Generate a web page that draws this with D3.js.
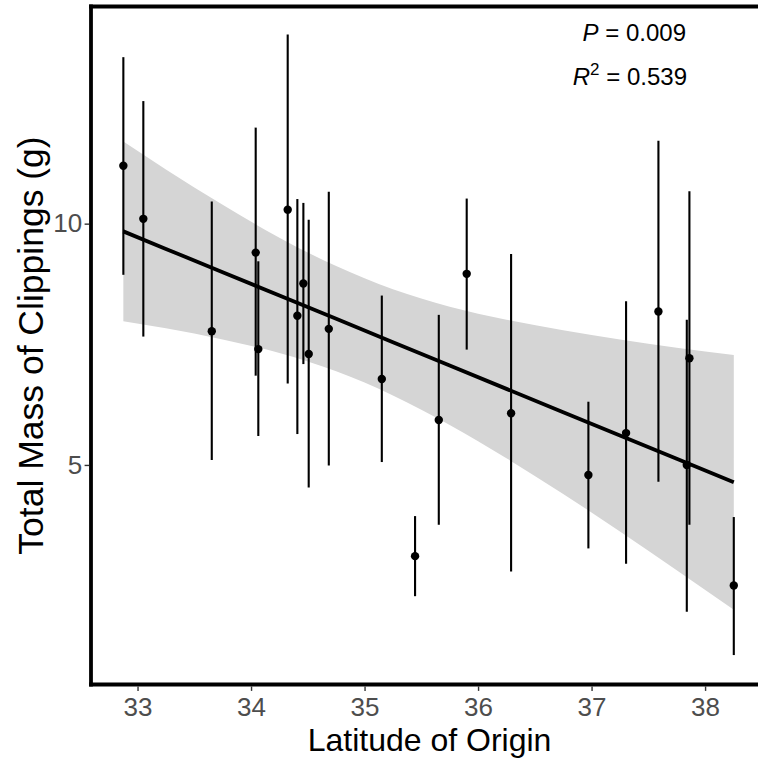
<!DOCTYPE html>
<html>
<head>
<meta charset="utf-8">
<script src="https://cdn.jsdelivr.net/npm/d3@7"></script>
<style>
  html, body { margin: 0; padding: 0; background: #fff; overflow: hidden; }
  svg { display: block; overflow: hidden; }
  text { font-family: "Liberation Sans", Arial, sans-serif; }
</style>
</head>
<body>
<div id="chart"></div>
<script>
// ---- Data ----
const latitude = [32.875, 33.051, 33.654, 34.041, 34.064, 34.323, 34.408, 34.461, 34.508, 34.685,
                  35.152, 35.445, 35.654, 35.900, 36.291, 36.972, 37.304, 37.589, 37.862, 37.839, 38.253];
const mass     = [11.20, 10.10, 7.77, 9.40, 7.40, 10.29, 8.09, 8.76, 7.30, 7.82,
                  6.78, 3.11, 5.93, 8.96, 6.07, 4.79, 5.66, 8.18, 7.21, 5.00, 2.50];
const massLow  = [8.94, 7.66, 5.10, 6.85, 5.60, 6.69, 5.64, 7.09, 4.53, 4.99,
                  5.06, 2.28, 3.76, 7.39, 2.79, 3.27, 2.95, 4.65, 3.76, 1.96, 1.06];
const massHigh = [13.45, 12.54, 10.46, 11.99, 9.22, 13.92, 10.51, 10.43, 10.08, 10.66,
                  8.51, 3.94, 8.11, 10.52, 9.37, 6.31, 8.39, 11.72, 10.67, 8.01, 3.92];

// fitted regression line and its confidence band
const fitLat  = [32.875, 33.25, 33.75, 34.25, 34.75, 35.25, 35.75, 36.25, 36.75, 37.25, 37.75, 38.253];
const fitMass = [9.840, 9.477, 8.994, 8.510, 8.027, 7.543, 7.060, 6.576, 6.093, 5.609, 5.126, 4.640];
const fitLow  = [7.98, 7.83, 7.60, 7.32, 6.94, 6.44, 5.83, 5.14, 4.40, 3.62, 2.82, 2.00];
const fitHigh = [11.70, 11.12, 10.39, 9.71, 9.12, 8.64, 8.28, 8.01, 7.79, 7.60, 7.43, 7.28];

const xTicks = [33, 34, 35, 36, 37, 38];
const yTicks = [5, 10];
const xTitle = "Latitude of Origin";
const yTitle = "Total Mass of Clippings (g)";
const pValue = "0.009";
const r2Value = "0.539";

// ---- Layout ----
const W = 758, H = 761;
const panel = { left: 91, top: 6.5, right: 764.1, bottom: 684.5 };

const svg = d3.select("#chart").append("svg")
  .attr("width", W).attr("height", H);

const x = d3.scaleLinear().domain([32.59, 38.52]).range([panel.left, panel.right]);
const y = d3.scaleLinear().domain([0.45, 14.5]).range([panel.bottom, panel.top]);

const fit = fitLat.map((d, i) => ({ lat: d, m: fitMass[i], lo: fitLow[i], hi: fitHigh[i] }));
const pts = latitude.map((d, i) => ({ lat: d, m: mass[i], lo: massLow[i], hi: massHigh[i] }));

// ribbon
svg.append("path")
  .datum(fit)
  .attr("fill", "#d5d5d5")
  .attr("d", d3.area()
    .x(d => x(d.lat)).y0(d => y(d.lo)).y1(d => y(d.hi))
    .curve(d3.curveMonotoneX));

// error bars
svg.append("g").selectAll("line").data(pts).join("line")
  .attr("x1", d => x(d.lat)).attr("x2", d => x(d.lat))
  .attr("y1", d => y(d.lo)).attr("y2", d => y(d.hi))
  .attr("stroke", "#000").attr("stroke-width", 2.1);

// regression line
svg.append("path")
  .datum(fit)
  .attr("fill", "none")
  .attr("stroke", "#000")
  .attr("stroke-width", 3.8)
  .attr("d", d3.line().x(d => x(d.lat)).y(d => y(d.m)));

// points
svg.append("g").selectAll("circle").data(pts).join("circle")
  .attr("cx", d => x(d.lat)).attr("cy", d => y(d.m))
  .attr("r", 4.2).attr("fill", "#000");

// panel border: left, top and bottom edges (right edge lies outside the picture)
const border = svg.append("g").attr("stroke", "#000").attr("stroke-width", 3.8);
border.append("line").attr("x1", panel.left).attr("x2", panel.left)
  .attr("y1", panel.top - 1.9).attr("y2", panel.bottom + 1.9);
border.append("line").attr("x1", panel.left - 1.9).attr("x2", W)
  .attr("y1", panel.top).attr("y2", panel.top);
border.append("line").attr("x1", panel.left - 1.9).attr("x2", W)
  .attr("y1", panel.bottom).attr("y2", panel.bottom);

// axes
const xAxis = svg.append("g")
  .attr("transform", `translate(0,${panel.bottom + 1.9})`)
  .call(d3.axisBottom(x).tickValues(xTicks).tickFormat(d3.format("d")).tickSize(4.5).tickPadding(7));
const yAxis = svg.append("g")
  .attr("transform", `translate(${panel.left - 1.9},0)`)
  .call(d3.axisLeft(y).tickValues(yTicks).tickFormat(d3.format("d")).tickSize(4.5).tickPadding(2.5));

[xAxis, yAxis].forEach(g => {
  g.select(".domain").remove();
  g.selectAll(".tick line").attr("stroke", "#333").attr("stroke-width", 1.4);
  g.selectAll(".tick text")
    .attr("fill", "#4d4d4d")
    .style("font-size", "26px")
    .style("font-family", "'Liberation Sans', Arial, sans-serif");
});

// axis titles
svg.append("text")
  .attr("x", (panel.left + panel.right) / 2 + 2).attr("y", 751)
  .attr("text-anchor", "middle")
  .style("font-size", "32px").attr("fill", "#000")
  .text(xTitle);

svg.append("text")
  .attr("transform", `translate(43,${(panel.top + panel.bottom) / 2}) rotate(-90)`)
  .attr("text-anchor", "middle")
  .style("font-size", "35.5px").attr("fill", "#000")
  .text(yTitle);

// annotation
const ann1 = svg.append("text")
  .attr("x", 686).attr("y", 41).attr("text-anchor", "end")
  .style("font-size", "24px").attr("fill", "#000");
ann1.append("tspan").style("font-style", "italic").text("P");
ann1.append("tspan").text(" = " + pValue);

const ann2 = svg.append("text")
  .attr("x", 687).attr("y", 85).attr("text-anchor", "end")
  .style("font-size", "24px").attr("fill", "#000");
ann2.append("tspan").style("font-style", "italic").text("R");
ann2.append("tspan").attr("dy", -10).style("font-size", "17px").text("2");
ann2.append("tspan").attr("dy", 10).text(" = " + r2Value);
</script>
</body>
</html>
